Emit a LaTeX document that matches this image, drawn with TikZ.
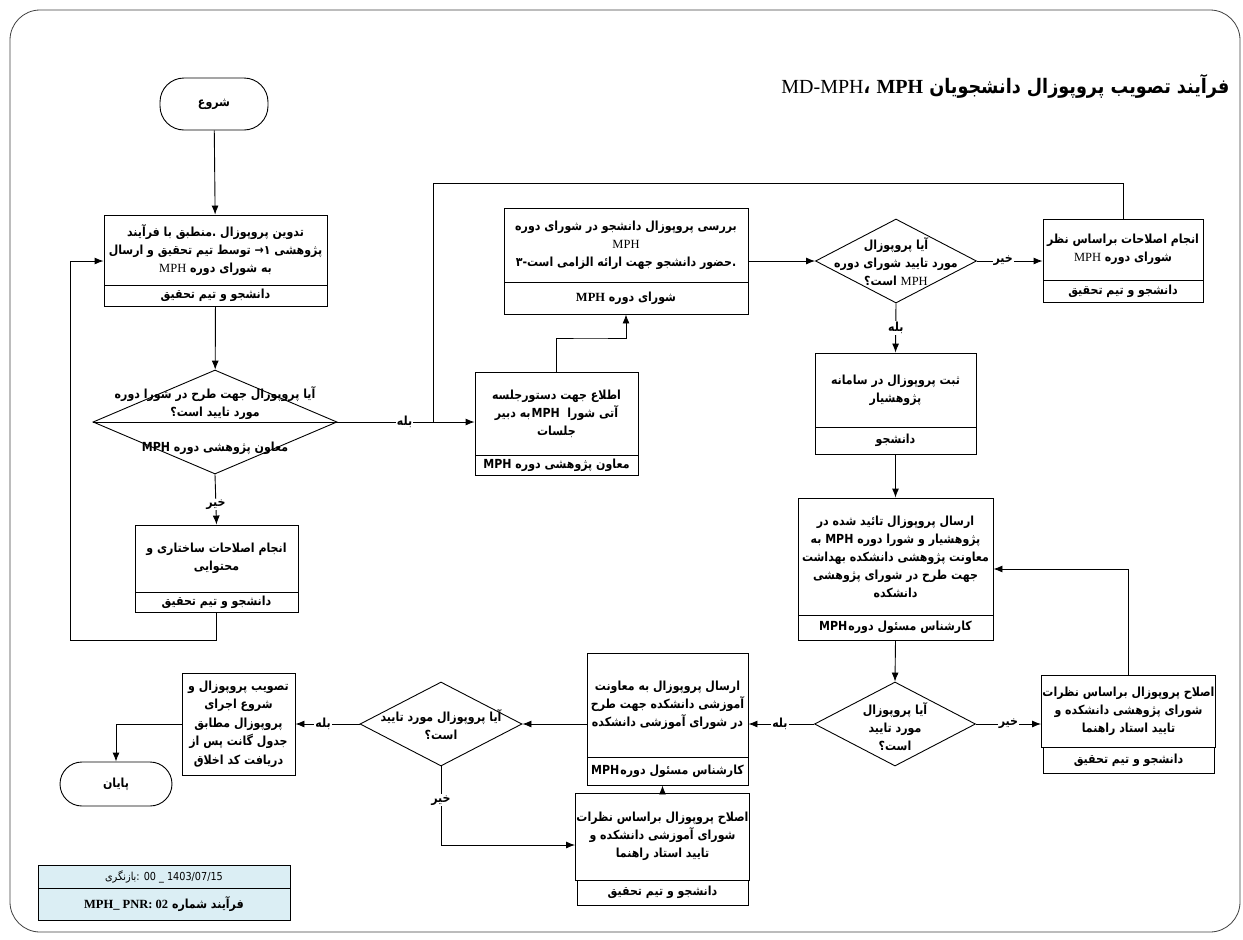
\documentclass[tikz,border=0pt]{standalone}
\usepackage{fontspec}
\usepackage{tikz}
\usetikzlibrary{arrows.meta,shapes,calc}
\newfontfamily\fa[Script=Arabic, FakeStretch=0.88]{DejaVu Sans}
\newfontfamily\lat{Liberation Serif}
\TeXXeTstate=1
\newcommand{\rl}[1]{\beginR#1\endR}
\definecolor{infoC}{RGB}{219,238,244}
\tikzstyle{edge}=[draw, line width=0.9pt, -{Latex[length=9pt,width=7pt]}]
\tikzstyle{lineE}=[draw, line width=0.9pt]
\tikzstyle{termV}=[draw, line width=0.9pt, rectangle, rounded corners=24pt, font=\fa\bfseries\fontsize{12.5}{14}\selectfont]
\tikzstyle{boxT}=[draw, line width=0.9pt, align=center, inner sep=1pt, font=\fa\bfseries\fontsize{12.5}{18}\selectfont]
\tikzstyle{boxR}=[boxT, font=\fa\bfseries\fontsize{12.5}{14}\selectfont]
\tikzstyle{decV}=[draw, line width=0.9pt, diamond, inner sep=0pt]
\tikzstyle{decT}=[align=center, inner sep=0pt, font=\fa\bfseries\fontsize{12.5}{18}\selectfont]
\tikzstyle{lbl}=[fill=white, inner sep=1pt, font=\fa\bfseries\fontsize{12.5}{14}\selectfont]

\begin{document}
\begin{tikzpicture}[x=1pt, y=-1pt]
      \useasboundingbox (0,0) rectangle (1243,940);
      \draw[black!75, line width=0.8pt, rounded corners=30pt] (10,10) rectangle (1240,932);
      \node(title) [anchor=east, font=\fa\bfseries\fontsize{20}{23}\selectfont] at (1233,86)
         {\rl{فرآیند تصویب پروپوزال دانشجویان \beginL{\lat MPH}\endL{} ،\beginL{\lat\mdseries MD-MPH}\endL}};

      % left column
      \node(start) [termV, minimum width=108, minimum height=52] at (214,104) {\rl{شروع}};
      \node(b1) [boxT, minimum width=223, minimum height=70] at (215.5,250)
         {\rl{تدوین پروپوزال .منطبق با فرآیند}\\ \rl{پژوهشی ۱→ توسط تیم تحقیق و ارسال}\\ \rl{به شورای دوره {\lat\mdseries MPH}}};
      \node(b1r) [boxR, minimum width=223, minimum height=21] at (215.5,295.5) {\rl{دانشجو و تیم تحقیق}};
      \node(d1) [decV, minimum width=244, minimum height=104] at (215,422) {};
      \node(d1t) [decT] at (215,403) {\rl{آیا پروپوزال جهت طرح در شورا دوره}\\ \rl{مورد تایید است؟}};
      \node(d1r) [decT] at (215,448) {\rl{معاون پژوهشی دوره MPH}};
      \node(b2) [boxT, minimum width=163, minimum height=67] at (216.5,558.5)
         {\rl{انجام اصلاحات ساختاری و}\\ \rl{محتوایی}};
      \node(b2r) [boxR, minimum width=163, minimum height=20] at (216.5,602) {\rl{دانشجو و تیم تحقیق}};

      % top row
      \node(b5) [boxT, minimum width=163, minimum height=83] at (556.5,413.5)
         {\rl{اطلاع جهت دستورجلسه}\\ \rl{آتی شورا \ MPH\kern1pt به دبیر}\\ \rl{جلسات}};
      \node(b5r) [boxR, minimum width=163, minimum height=20] at (556.5,465) {\rl{معاون پژوهشی دوره MPH}};
      \node(b6) [boxT, minimum width=244, minimum height=74] at (626,245)
         {\rl{بررسی پروپوزال دانشجو در شورای دوره}\\ {\lat\mdseries MPH}\\ \rl{.حضور دانشجو جهت ارائه الزامی است-۳}};
      \node(b6r) [boxR, minimum width=244, minimum height=32] at (626,298) {\rl{شورای دوره {\lat MPH}}};
      \node(d2) [decV, minimum width=161, minimum height=84] at (896,261) {};
      \node(d2t) [decT] at (896,262) {\rl{آیا پروپوزال}\\ \rl{مورد تایید شورای دوره}\\ \rl{{\lat\mdseries MPH} است؟}};
      \node(b7) [boxT, minimum width=160, minimum height=61] at (1123,249.5)
         {\rl{انجام اصلاحات براساس نظر}\\ \rl{شورای دوره {\lat\mdseries MPH}}};
      \node(b7r) [boxR, minimum width=160, minimum height=22] at (1123,291) {\rl{دانشجو و تیم تحقیق}};

      % right column
      \node(b8) [boxT, minimum width=161, minimum height=74] at (895.5,390)
         {\rl{ثبت پروپوزال در سامانه}\\ \rl{پژوهشیار}};
      \node(b8r) [boxR, minimum width=161, minimum height=27] at (895.5,440.5) {\rl{دانشجو}};
      \node(b9) [boxT, minimum width=195, minimum height=117] at (895.5,556.5)
         {\rl{ارسال پروپوزال تائید شده در}\\ \rl{پژوهشیار و شورا دوره MPH به}\\ \rl{معاونت پژوهشی دانشکده بهداشت}\\ \rl{جهت طرح در شورای پژوهشی}\\ \rl{دانشکده}};
      \node(b9r) [boxR, minimum width=195, minimum height=25] at (895.5,627.5) {\rl{کارشناس مسئول دوره\kern1pt MPH}};
      \node(d3) [decV, minimum width=161, minimum height=84] at (895,724) {};
      \node(d3t) [decT] at (895,727) {\rl{آیا پروپوزال}\\ \rl{مورد تایید}\\ \rl{است؟}};
      \node(b10) [boxT, minimum width=171, minimum height=72] at (1128.5,711)
         {\rl{اصلاح پروپوزال براساس نظرات}\\ \rl{شورای پژوهشی دانشکده و}\\ \rl{تایید استاد راهنما}};
      \node(b10r) [boxR, minimum width=171, minimum height=26] at (1128.5,760) {\rl{دانشجو و تیم تحقیق}};

      % bottom row
      \node(b11) [boxT, minimum width=161, minimum height=104] at (667.5,705)
         {\rl{ارسال پروپوزال به معاونت}\\ \rl{آموزشی دانشکده جهت طرح}\\ \rl{در شورای آموزشی دانشکده}};
      \node(b11r) [boxR, minimum width=161, minimum height=28] at (667.5,771) {\rl{کارشناس مسئول دوره\kern1pt MPH}};
      \node(d4) [decV, minimum width=162, minimum height=84] at (441,724) {};
      \node(d4t) [decT] at (441,725) {\rl{آیا پروپوزال مورد تایید}\\ \rl{است؟}};
      \node(b12) [boxT, minimum width=113, minimum height=102, font=\fa\bfseries\fontsize{12.5}{18.5}\selectfont] at (238.5,724)
         {\rl{تصویب پروپوزال و}\\ \rl{شروع اجرای}\\ \rl{پروپوزال مطابق}\\ \rl{جدول گانت پس از}\\ \rl{دریافت کد اخلاق}};
      \node(end) [termV, rounded corners=22pt, minimum width=112, minimum height=44] at (116,784) {\rl{پایان}};
      \node(b13) [boxT, minimum width=171, minimum height=87] at (662.5,836.5)
         {\rl{اصلاح پروپوزال براساس نظرات}\\ \rl{شورای آموزشی دانشکده و}\\ \rl{تایید استاد راهنما}};
      \node(b13r) [boxR, minimum width=171, minimum height=25] at (662.5,892.5) {\rl{دانشجو و تیم تحقیق}};

      % info box
      \node(info1) [draw, line width=0.8pt, fill=infoC, minimum width=252, minimum height=23, font=\fa\fontsize{11}{13}\selectfont] at (164,876.5)
         {\rl{بازنگری}: 00 \_ 1403/07/15};
      \node(info2) [draw, line width=0.8pt, fill=infoC, minimum width=252, minimum height=32, font=\fa\bfseries\fontsize{12.5}{14}\selectfont] at (164,904)
         {\rl{فرآیند شماره \beginL{\lat MPH\_ PNR: 02}\endL}};

      \coordinate(j0) at (70,640);
      \coordinate(j1) at (433,183);
      \coordinate(j2) at (590,338);
      \coordinate(j3) at (1128.5,569);
      \coordinate(j4) at (441,845);

      \draw[edge] (start) to (b1);
      \draw[edge] (b1r) to (d1);
      \draw[lineE] (d1.west) to (d1.east);
      \draw[edge] (d1.south) to node[lbl, pos=0.6] {\rl{خیر}} (b2.north);
      \draw[edge] (b2r.south) |- (j0) |- ([yshift=-11pt]b1.west);
      \draw[edge] (d1.east) to node[lbl, pos=0.49] {\rl{بله}} (d1.east -| b5.west);
      \draw[lineE] (b7.north) |- (j1) to (j1 |- d1.east);
      \draw[edge] (b5.north) |- (j2) -| (b6r.south);
      \draw[edge] (d2.west -| b6.east) to (d2.west);
      \draw[edge] (d2.east) to node[lbl, pos=0.4] {\rl{خیر}} (d2.east -| b7.west);
      \draw[edge] (d2.south) to node[lbl, pos=0.5] {\rl{بله}} (b8.north);
      \draw[edge] (b8r.south) to (b9.north);
      \draw[edge] (b9r.south) to (d3.north);
      \draw[edge] (d3.east) to node[lbl, pos=0.5] {\rl{خیر}} (d3.east -| b10.west);
      \draw[edge] (b10.north) to (j3) to (j3 -| b9.east);
      \draw[edge] (d3.west) to node[lbl, pos=0.52] {\rl{بله}} (d3.west -| b11.east);
      \draw[edge] (d4.east -| b11.west) to (d4.east);
      \draw[edge] (d4.west) to node[lbl, pos=0.57] {\rl{بله}} (d4.west -| b12.east);
      \draw[edge] (b12.west) -| (end.north);
      \draw[edge] (d4.south) to node[lbl, pos=0.43] {\rl{خیر}} (j4) to (j4 -| b13.west);
      \draw[edge] (b13.north) to (b13.north |- b11r.south);
    \end{tikzpicture}
\end{document}
